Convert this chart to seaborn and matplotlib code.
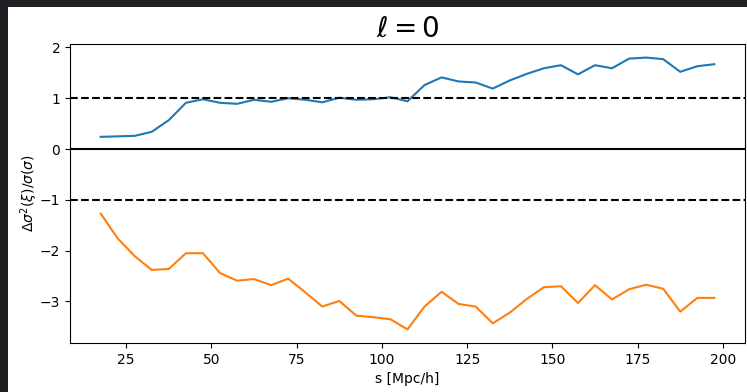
import matplotlib
matplotlib.use('Agg')
import matplotlib.pyplot as plt
import seaborn as sns
import numpy as np
import pandas as pd
from matplotlib.patches import Rectangle

# separation bins (bin centres)
s_vals = [17.5, 22.5, 27.5, 32.5, 37.5, 42.5, 47.5, 52.5, 57.5, 62.5,
          67.5, 72.5, 77.5, 82.5, 87.5, 92.5, 97.5, 102.5, 107.5, 112.5,
          117.5, 122.5, 127.5, 132.5, 137.5, 142.5, 147.5, 152.5, 157.5, 162.5,
          167.5, 172.5, 177.5, 182.5, 187.5, 192.5, 197.5]

upper = [0.24, 0.25, 0.26, 0.34, 0.57, 0.91, 0.98, 0.91, 0.89, 0.97,
         0.93, 1.00, 0.97, 0.92, 1.01, 0.97, 0.98, 1.02, 0.94, 1.26,
         1.41, 1.33, 1.31, 1.19, 1.35, 1.48, 1.59, 1.65, 1.47, 1.65,
         1.59, 1.78, 1.80, 1.77, 1.52, 1.63, 1.67]

lower = [-1.27, -1.76, -2.11, -2.38, -2.36, -2.05, -2.05, -2.44, -2.59, -2.56,
         -2.68, -2.55, -2.82, -3.10, -2.99, -3.28, -3.31, -3.35, -3.55, -3.10,
         -2.81, -3.05, -3.10, -3.43, -3.22, -2.95, -2.72, -2.70, -3.03, -2.68,
         -2.96, -2.76, -2.67, -2.75, -3.20, -2.93, -2.93]

df = pd.DataFrame({'s': s_vals + s_vals,
                   'val': upper + lower,
                   'curve': ['up'] * len(s_vals) + ['down'] * len(s_vals)})

fig = plt.figure(figsize=(7.47, 3.92), dpi=100, facecolor='#1f2024')
# white canvas inside the dark screenshot border
fig.patches.append(Rectangle((8 / 747, 0), 1 - 8 / 747, 1 - 7 / 392,
                             transform=fig.transFigure, facecolor='white',
                             edgecolor='none', zorder=-10))
ax = fig.add_axes([70 / 747, 1 - 343 / 392, 675 / 747, 299 / 392])

sns.lineplot(data=df, x='s', y='val', hue='curve',
             palette=['#1f77b4', '#ff7f0e'], legend=False, ax=ax, linewidth=1.5)

ax.axhline(0, color='black', lw=1.5)
ax.axhline(1, color='black', lw=1.5, ls='--')
ax.axhline(-1, color='black', lw=1.5, ls='--')

ax.set_xticks([25, 50, 75, 100, 125, 150, 175, 200])
ax.set_yticks([-3, -2, -1, 0, 1, 2])
ax.set_xlabel('s [Mpc/h]')
ax.set_ylabel(r'$\Delta\sigma^2(\xi)/\sigma(\sigma)$', labelpad=0)
ax.set_title(r'$\ell = 0$', fontsize=20, pad=5)

plt.savefig('out.png', dpi=100, facecolor=fig.get_facecolor())
